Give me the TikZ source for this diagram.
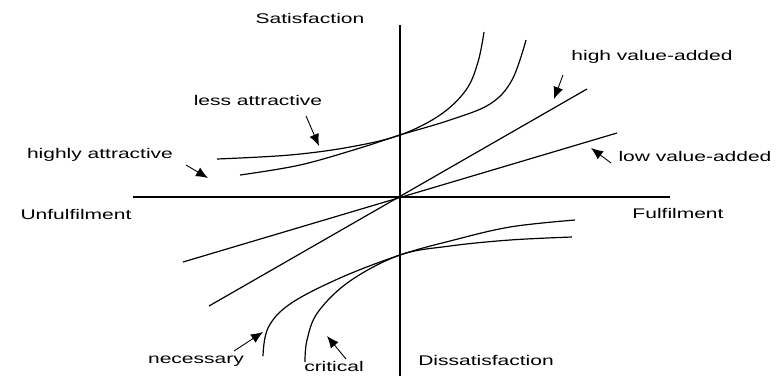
\documentclass[tikz,border=0pt]{standalone}
\usepackage{fontspec}
\setmainfont{Liberation Sans}[FakeStretch=1.5]
\usetikzlibrary{arrows.meta}
\begin{document}
\begin{tikzpicture}[
    x=1pt, y=-1pt,
    lbl/.style={font=\fontsize{14}{16}\selectfont, inner sep=0pt},
    axis/.style={line width=1.8pt},
    curve/.style={line width=1.2pt, smooth, tension=0.6},
    pointer/.style={-{Latex[length=12pt,width=10pt]}, line width=0.9pt}
]
\useasboundingbox (0,0) rectangle (778,376);
\node[lbl] (sat) at (310,18) {Satisfaction};
\node[lbl] (dis) at (486,360) {Dissatisfaction};
\node[lbl] (unf) at (76,214) {Unfulfilment};
\node[lbl] (ful) at (678,213) {Fulfilment};
\node[lbl] (less) at (258,100) {less attractive};
\node[lbl] (highly) at (100,155) {highly attractive};
\node[lbl] (hva) at (652,57) {high value-added};
\node[lbl] (lva) at (695,156) {low value-added};
\node[lbl] (nec) at (196,361) {necessary};
\node[lbl] (crit) at (334,366) {critical};
\coordinate (top) at (400,25);
\coordinate (bot) at (400,376);
\coordinate (west) at (133,197);
\coordinate (east) at (670,197);
\draw[axis] (top) -- (bot);
\draw[axis] (west) -- (east);
\coordinate (hv1) at (209,306);
\coordinate (hv2) at (587,89);
\coordinate (lv1) at (183,262);
\coordinate (lv2) at (617,133);
\draw[curve] (hv1) -- (hv2);
\draw[curve] (lv1) -- (lv2);
\draw[curve] plot coordinates {(217,159) (290,155) (350,147) (400,135) (440,115) (466,90) (478,62) (484,32)};
\draw[curve] plot coordinates {(240,175) (300,165) (360,148) (400,135) (450,120) (490,104) (512,80) (526,40)};
\draw[curve] plot coordinates {(263,356) (268,328) (290,304) (340,278) (400,255) (450,241) (510,227) (575,220)};
\draw[curve] plot coordinates {(305,362) (307,340) (318,312) (350,281) (400,255) (450,246) (510,240) (572,237)};
\coordinate (la1) at (306,116);
\coordinate (la2) at (319,146);
\coordinate (ha1) at (186,165);
\coordinate (ha2) at (208,178);
\coordinate (hd1) at (563,75);
\coordinate (hd2) at (554,99);
\coordinate (ld1) at (611,163);
\coordinate (ld2) at (591,148);
\coordinate (ne1) at (234,351);
\coordinate (ne2) at (263,332);
\coordinate (cr1) at (346,359);
\coordinate (cr2) at (327,336);
\draw[pointer] (la1) -- (la2);
\draw[pointer] (ha1) -- (ha2);
\draw[pointer] (hd1) -- (hd2);
\draw[pointer] (ld1) -- (ld2);
\draw[pointer] (ne1) -- (ne2);
\draw[pointer] (cr1) -- (cr2);
\end{tikzpicture}
\end{document}
